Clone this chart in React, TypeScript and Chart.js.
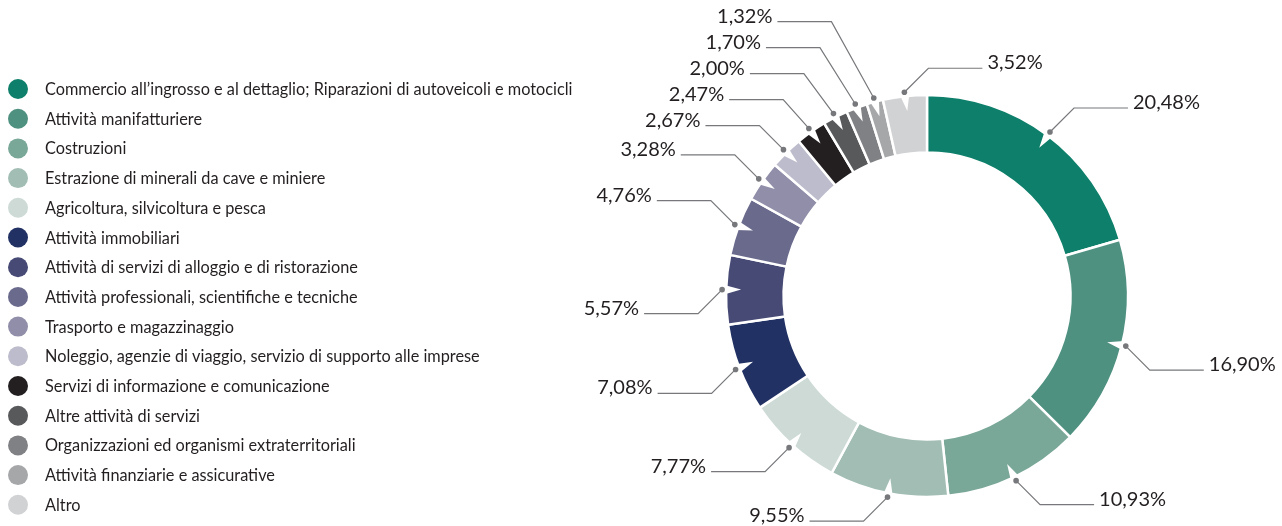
import React, { useEffect, useRef } from "react";
import { Chart, registerables } from "chart.js";

Chart.register(...registerables);

const categories = [
  "Commercio all\u2019ingrosso e al dettaglio; Riparazioni di autoveicoli e motocicli",
  "Attività manifatturiere",
  "Costruzioni",
  "Estrazione di minerali da cave e miniere",
  "Agricoltura, silvicoltura e pesca",
  "Attività immobiliari",
  "Attività di servizi di alloggio e di ristorazione",
  "Attività professionali, scientifiche e tecniche",
  "Trasporto e magazzinaggio",
  "Noleggio, agenzie di viaggio, servizio di supporto alle imprese",
  "Servizi di informazione e comunicazione",
  "Altre attività di servizi",
  "Organizzazioni ed organismi extraterritoriali",
  "Attività finanziarie e assicurative",
  "Altro",
];

const values = [20.48, 16.9, 10.93, 9.55, 7.77, 7.08, 5.57, 4.76, 3.28, 2.67, 2.47, 2.0, 1.7, 1.32, 3.52];

const colors = [
  "#0e7f6a",
  "#4f9180",
  "#79a798",
  "#a2bdb4",
  "#cddad6",
  "#213163",
  "#464a75",
  "#6a6a8d",
  "#908ea9",
  "#bdbccc",
  "#231f20",
  "#58595b",
  "#808184",
  "#a6a7a9",
  "#d1d2d4",
];

const valueLabels = values.map((v) => v.toFixed(2).replace(".", ",") + "%");

const FONT = "Lato, 'Open Sans', sans-serif";
const TEXT_COLOR = "#231f20";
const LINE_COLOR = "#77787b";

const legendPlugin = {
  id: "sideLegend",
  afterDraw(chart: any) {
    const ctx = chart.ctx;
    const labels = chart.data.labels as string[];
    const bg = chart.data.datasets[0].backgroundColor as string[];
    ctx.save();
    ctx.font = `16.3px ${FONT}`;
    ctx.textAlign = "left";
    ctx.textBaseline = "alphabetic";
    labels.forEach((lab, i) => {
      const cy = 89 + i * 29.7;
      ctx.beginPath();
      ctx.arc(18, cy, 10, 0, Math.PI * 2);
      ctx.fillStyle = bg[i];
      ctx.fill();
      ctx.fillStyle = TEXT_COLOR;
      ctx.fillText(lab, 45, cy + 6);
    });
    ctx.restore();
  },
};

const leaderPlugin = {
  id: "leaderLabels",
  afterDatasetsDraw(chart: any) {
    const ctx = chart.ctx;
    const meta = chart.getDatasetMeta(0);
    const texts = valueLabels;
    const items = meta.data.map((arc: any, i: number) => {
      const p = arc.getProps(["x", "y", "startAngle", "endAngle", "outerRadius"], true);
      const mid = (p.startAngle + p.endAngle) / 2;
      const R = p.outerRadius;
      const dr = R + 4;
      const dx = p.x + dr * Math.cos(mid);
      const dy = p.y + dr * Math.sin(mid);
      const right = dx > p.x - 0.15 * R;
      const down = dy > p.y - 0.1 * R;
      return { i, cx: p.x, cy: p.y, R, mid, dx, dy, right, down, ly: 0, ex: 0 };
    });

    // notches
    ctx.save();
    ctx.fillStyle = "#ffffff";
    items.forEach((it: any) => {
      const half = 4.5 / it.R;
      const ro = it.R + 1;
      const ri = it.R - 15;
      ctx.beginPath();
      ctx.moveTo(it.cx + ro * Math.cos(it.mid - half), it.cy + ro * Math.sin(it.mid - half));
      ctx.lineTo(it.cx + ro * Math.cos(it.mid + half), it.cy + ro * Math.sin(it.mid + half));
      ctx.lineTo(it.cx + ri * Math.cos(it.mid + 0.2 * half), it.cy + ri * Math.sin(it.mid + 0.2 * half));
      ctx.closePath();
      ctx.fill();
    });
    ctx.restore();

    // layout label y positions
    const step = 24;
    items.forEach((it: any) => {
      it.ly = it.down ? it.dy + step : it.dy - step;
    });
    const leftUp = items.filter((it: any) => !it.right && !it.down).sort((a: any, b: any) => b.dy - a.dy);
    let prev = Infinity;
    leftUp.forEach((it: any) => {
      it.ly = Math.min(it.ly, prev - 26);
      prev = it.ly;
    });
    items.forEach((it: any) => {
      const natural = it.down ? it.dy + step : it.dy - step;
      const extra = Math.abs(it.ly - natural);
      const off = step + 0.35 * extra;
      it.ex = it.dx + (it.right ? off : -off);
    });

    ctx.save();
    ctx.strokeStyle = LINE_COLOR;
    ctx.lineWidth = 1.2;
    ctx.font = `20px ${FONT}`;
    ctx.textBaseline = "alphabetic";
    items.forEach((it: any) => {
      const sign = it.right ? 1 : -1;
      const endX = it.ex + sign * 54;
      ctx.beginPath();
      ctx.moveTo(it.dx, it.dy);
      ctx.lineTo(it.ex, it.ly);
      ctx.lineTo(endX, it.ly);
      ctx.stroke();
      ctx.beginPath();
      ctx.arc(it.dx, it.dy, 2.8, 0, Math.PI * 2);
      ctx.fillStyle = LINE_COLOR;
      ctx.fill();
      ctx.fillStyle = TEXT_COLOR;
      ctx.textAlign = it.right ? "left" : "right";
      ctx.fillText(texts[it.i], endX + sign * 5, it.ly + 1);
    });
    ctx.restore();
  },
};

export default function App() {
  const ref = useRef<HTMLCanvasElement | null>(null);
  useEffect(() => {
    if (!ref.current) return;
    const chart = new Chart(ref.current, {
      type: "doughnut",
      data: {
        labels: categories,
        datasets: [
          {
            data: values,
            backgroundColor: colors,
            borderColor: "#ffffff",
            borderWidth: 2.5,
            hoverOffset: 0,
            radius: 201,
            cutout: 149,
          } as any,
        ],
      },
      options: {
        responsive: false,
        animation: false,
        layout: { padding: { left: 717, right: 145, top: 86, bottom: 20 } },
        plugins: {
          legend: { display: false },
          tooltip: { enabled: false },
        },
      },
      plugins: [legendPlugin, leaderPlugin],
    });
    return () => chart.destroy();
  }, []);
  return (
    <div style={{ position: "fixed", left: 0, top: 0, width: 1282, height: 526, background: "#fff" }}>
      <canvas ref={ref} width={1282} height={526} style={{ width: 1282, height: 526 }} />
    </div>
  );
}
